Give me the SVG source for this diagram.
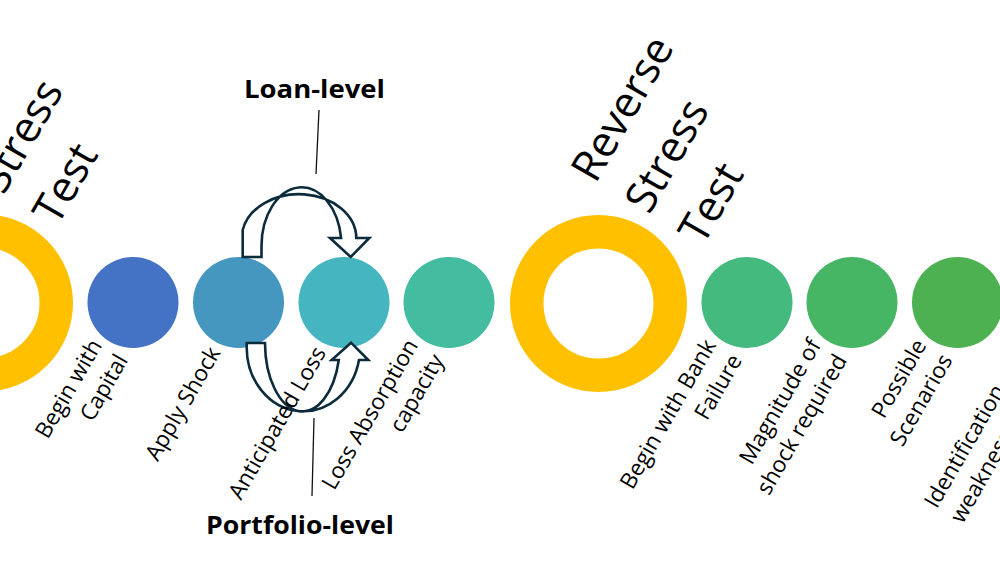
<svg xmlns="http://www.w3.org/2000/svg" width="1000" height="563" viewBox="0 0 1000 563">
<style>
.ring{fill:none;stroke:#FFC000;stroke-width:33.5}
.lbl{font-family:"Open Sans","Noto Sans",sans-serif;font-size:22.5px;fill:#000;text-anchor:end}
.lbs{font-family:"Open Sans","Noto Sans",sans-serif;font-size:22.5px;fill:#000;text-anchor:start}
.ttl{font-family:"Open Sans","Noto Sans",sans-serif;font-size:43px;fill:#000}
.lvl{font-family:"Open Sans","Noto Sans",sans-serif;font-weight:700;font-size:25px;fill:#000;text-anchor:middle}
.arr{fill:#fff;stroke:#0C2B3B;stroke-width:2.6;stroke-linejoin:miter}
.lead{stroke:#111;stroke-width:1.3;fill:none}
</style>
<rect width="1000" height="563" fill="#fff"/>
<g id="stress-test">
<circle class="ring" cx="-15.5" cy="303" r="71.75"/>
<g transform="translate(3.5,196) rotate(-60)"><text class="ttl" x="0" y="0">Stress</text><text class="ttl" x="0" y="62">Test</text></g>
</g>
<g id="reverse-stress-test">
<circle class="ring" cx="598.5" cy="303.5" r="71.75"/>
<g transform="translate(595.5,184.5) rotate(-60)"><text class="ttl" x="0" y="0">Reverse</text><text class="ttl" x="0" y="62">Stress</text><text class="ttl" x="0" y="124">Test</text></g>
</g>
<g id="begin-capital"><circle cx="133" cy="302.5" r="45.5" fill="#4472C4"/></g>
<g id="apply-shock"><circle cx="238.5" cy="302.5" r="45.5" fill="#4597C0"/></g>
<g id="anticipated-loss"><circle cx="344" cy="302.5" r="45.5" fill="#45B5BF"/></g>
<g id="loss-absorption"><circle cx="449" cy="302.5" r="45.5" fill="#44BC9F"/></g>
<g id="bank-failure"><circle cx="747" cy="302.5" r="45.5" fill="#45BA7F"/></g>
<g id="magnitude"><circle cx="852" cy="302.5" r="45.5" fill="#47B664"/></g>
<g id="scenarios"><circle cx="957.5" cy="302.5" r="45.5" fill="#4DB151"/></g>
<g id="connectors">
<path class="arr" d="M242.7,257 L242.7,230 A57.3,44 0 0 1 356.3,238 L369.3,238 L350.7,257 L330,238 L341.1,238 A40,59 0 0 0 261.5,246 L261.5,257 Z"/>
<path class="arr" d="M246.7,343 L246.7,348 A56.7,63.7 0 0 0 359,360 L368.3,360 L351,342.7 L331.7,360 L338.8,360 A37.5,68.7 0 0 1 265,343 Z"/>
<line class="lead" x1="319" y1="110" x2="316" y2="174"/>
<line class="lead" x1="314" y1="418" x2="312" y2="496"/>
</g>
<g id="labels">
<g transform="translate(133,302.5) rotate(-60)"><text class="lbl" x="-52" y="-5">Begin with</text><text class="lbl" x="-52" y="25">Capital</text></g>
<g transform="translate(238.5,302.5) rotate(-60)"><text class="lbl" x="-52" y="10">Apply Shock</text></g>
<g transform="translate(344,302.5) rotate(-60)"><text class="lbl" x="-52" y="10">Anticipated Loss</text></g>
<g transform="translate(449,302.5) rotate(-60)"><text class="lbl" x="-52" y="-5">Loss Absorption</text><text class="lbl" x="-52" y="25">capacity</text></g>
<g transform="translate(747,302.5) rotate(-60)"><text class="lbl" x="-52" y="-5">Begin with Bank</text><text class="lbl" x="-52" y="25">Failure</text></g>
<g transform="translate(852,302.5) rotate(-60)"><text class="lbl" x="-52" y="-5">Magnitude of</text><text class="lbl" x="-52" y="25">shock required</text></g>
<g transform="translate(957.5,302.5) rotate(-60)"><text class="lbl" x="-52" y="-5">Possible</text><text class="lbl" x="-52" y="25">Scenarios</text></g>
<g id="weakness-label" transform="translate(936.7,509.6) rotate(-60)"><text class="lbs" x="0" y="0">Identification of</text><text class="lbs" x="0" y="30">weaknesses</text></g>
</g>
<g id="loan-level"><text class="lvl" x="314.5" y="98" textLength="141" lengthAdjust="spacingAndGlyphs">Loan-level</text></g>
<g id="portfolio-level"><text class="lvl" x="300" y="534" textLength="188" lengthAdjust="spacingAndGlyphs">Portfolio-level</text></g>
</svg>
